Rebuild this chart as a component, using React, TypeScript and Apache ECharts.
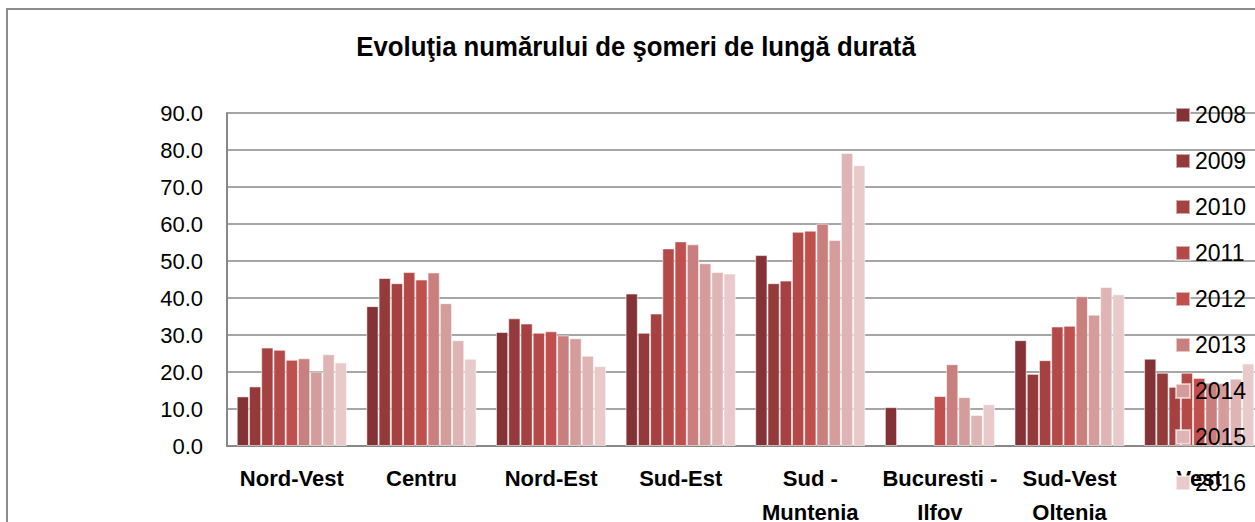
import React, { useEffect, useRef } from "react";
import * as echarts from "echarts";

const categories = [
  "Nord-Vest",
  "Centru",
  "Nord-Est",
  "Sud-Est",
  "Sud -\nMuntenia",
  "Bucuresti -\nIlfov",
  "Sud-Vest\nOltenia",
  "Vest",
];
const years = ["2008", "2009", "2010", "2011", "2012", "2013", "2014", "2015", "2016"];

const v2008 = [13.4, 37.8, 30.8, 41.2, 51.6, 10.5, 28.6, 23.6];
const v2009 = [16.1, 45.4, 34.5, 30.6, 44.0, null, 19.5, 19.8];
const v2010 = [26.6, 44.0, 33.1, 35.8, 44.7, null, 23.2, 16.0];
const v2011 = [26.0, 47.0, 30.6, 53.4, 57.9, null, 32.3, 19.8];
const v2012 = [23.3, 45.0, 31.0, 55.3, 58.2, 13.5, 32.5, 18.4];
const v2013 = [23.7, 46.9, 29.9, 54.5, 60.1, 22.1, 40.5, 17.1];
const v2014 = [20.1, 38.6, 29.1, 49.4, 55.7, 13.2, 35.5, 17.0];
const v2015 = [24.8, 28.6, 24.4, 47.0, 79.2, 8.4, 43.0, 18.2];
const v2016 = [22.6, 23.6, 21.6, 46.6, 75.9, 11.3, 41.0, 22.3];

const seriesValues = [v2008, v2009, v2010, v2011, v2012, v2013, v2014, v2015, v2016];
const colors = [
  "#843235",
  "#953a3a",
  "#a54241",
  "#b34a47",
  "#c0504d",
  "#c97f7e",
  "#d49c9b",
  "#deb5b4",
  "#e8caca",
];

const yTicks = [0, 10, 20, 30, 40, 50, 60, 70, 80, 90];
const titleText = "Evoluţia numărului de şomeri de lungă durată";

const FONT = "'Liberation Sans', Arial, sans-serif";

export default function App() {
  const ref = useRef<HTMLDivElement>(null);
  useEffect(() => {
    document.body.style.margin = "0";
    const chart = echarts.init(ref.current!, null, { renderer: "svg" });
    chart.setOption({
      animation: false,
      backgroundColor: "#ffffff",
      color: colors,
      textStyle: { fontFamily: FONT },
      graphic: [
        {
          type: "rect",
          shape: { x: 7, y: 9, width: 1400, height: 700 },
          style: { fill: "none", stroke: "#8c8c8c", lineWidth: 2 },
          z: 0,
        },
        {
          type: "text",
          x: 636,
          y: 47,
          scaleX: 0.92,
          style: {
            text: titleText,
            fontFamily: FONT,
            fontWeight: "bold",
            fontSize: 28,
            fill: "#000",
            textAlign: "center",
            textVerticalAlign: "middle",
          },
        },
      ],
      legend: {
        orient: "vertical",
        left: 1170,
        top: 97,
        itemWidth: 14,
        itemHeight: 14,
        itemGap: 20,
        icon: "rect",
        textStyle: { fontFamily: FONT, fontSize: 23, lineHeight: 26, color: "#000" },
        data: years,
      },
      grid: {
        left: 227,
        top: 113,
        width: 1037,
        height: 333,
        containLabel: false,
        outerBoundsMode: "none",
      },
      xAxis: {
        type: "category",
        data: categories,
        axisLine: { lineStyle: { color: "#888", width: 2 } },
        axisTick: { show: false },
        axisLabel: {
          fontFamily: FONT,
          fontWeight: "bold",
          fontSize: 22,
          lineHeight: 34,
          color: "#000",
          margin: 15,
          interval: 0,
        },
      },
      yAxis: {
        type: "value",
        min: 0,
        max: 90,
        interval: 10,
        axisLine: { show: true, lineStyle: { color: "#888", width: 2 } },
        axisTick: { show: false },
        splitLine: { lineStyle: { color: "#888", width: 1.5 } },
        axisLabel: {
          fontFamily: FONT,
          fontSize: 22,
          color: "#000",
          margin: 24,
          formatter: (v: number) => (yTicks.includes(v) ? v.toFixed(1) : ""),
        },
      },
      series: seriesValues.map((vals, i) => ({
        name: years[i],
        type: "bar",
        data: vals,
        barGap: "0%",
        barCategoryGap: "15%",
        itemStyle: { color: colors[i], borderColor: "rgba(255,255,255,0.55)", borderWidth: 1 },
      })),
    });
    return () => chart.dispose();
  }, []);
  return <div ref={ref} style={{ width: 1255, height: 522 }} />;
}
